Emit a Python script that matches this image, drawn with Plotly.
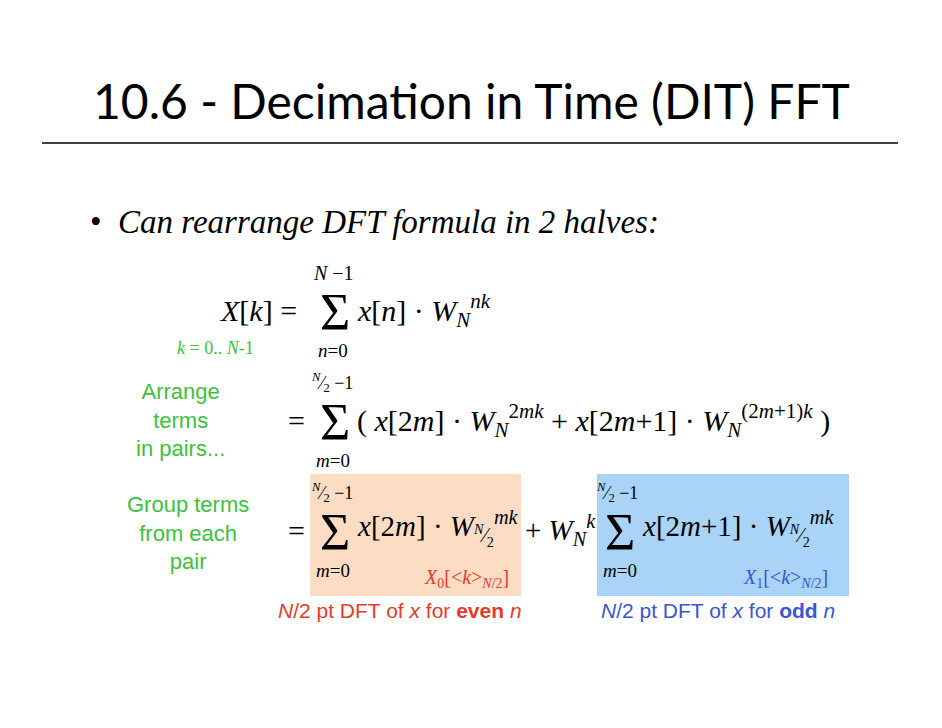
import plotly.graph_objects as go

title = "10.6 - Decimation in Time (DIT) FFT"
bullet = "•  <i>Can rearrange DFT formula in 2 halves:</i>"
side_labels = ["Arrange<br>terms<br>in pairs...", "Group terms<br>from each<br>pair"]
bottom_labels = ["<i>N</i>/2 pt DFT of <i>x</i> for <b>even</b> <i>n</i>",
                 "<i>N</i>/2 pt DFT of <i>x</i> for <b>odd</b> <i>n</i>"]

SERIF = "Liberation Serif, Times New Roman, serif"
SANS = "Liberation Sans, Arial, sans-serif"
GREEN = "#3cc23c"
RED = "#e83a2a"
BLUE = "#3c55d0"

fig = go.Figure()
fig.add_trace(go.Scatter(x=[10, 940], y=[10, 720], mode="markers", marker=dict(opacity=0), hoverinfo="skip", showlegend=False))

def t(x, y, s, size=24, color="black", family=SERIF, anchor="center"):
    fig.add_annotation(x=x, y=y, text=s, showarrow=False, xanchor=anchor, yanchor="middle",
                       font=dict(size=size, color=color, family=family), align="center")

fig.add_shape(type="rect", x0=310, x1=521, y0=474, y1=596, fillcolor="#fddcc4", line_width=0, layer="below")
fig.add_shape(type="rect", x0=597, x1=849, y0=474, y1=596, fillcolor="#a9d3f7", line_width=0, layer="below")
fig.add_shape(type="line", x0=42, x1=898, y0=143, y1=143, line=dict(color="black", width=1.5))

t(471, 100, title, size=48, family="Lato")
t(88, 222, bullet, size=33, anchor="left")

# line 1
t(258, 310, "<i>X</i>[<i>k</i>] =", size=30)
t(333, 273, "<i>N</i> −1", size=20)
t(335, 312, "Σ", size=52)
t(333, 350, "<i>n</i>=0", size=19)
t(355, 310, "<i>x</i>[<i>n</i>] · <i>W</i><sub><i>N</i></sub><sup><i>nk</i></sup>", size=30, anchor="left")
t(215, 348, "<i>k</i> = 0.. <i>N</i>-1", size=18, color=GREEN)

# line 2
t(180, 420, side_labels[0], size=22, color=GREEN, family=SANS)
t(296, 420, "=", size=30)
t(332, 382, "<sup><i>N</i></sup>⁄<sub>2</sub> −1", size=18)
t(335, 422, "Σ", size=52)
t(333, 460, "<i>m</i>=0", size=19)
t(355, 420, "( <i>x</i>[2<i>m</i>] · <i>W</i><sub><i>N</i></sub><sup>2<i>mk</i></sup> + <i>x</i>[2<i>m</i>+1] · <i>W</i><sub><i>N</i></sub><sup>(2<i>m</i>+1)<i>k</i></sup> )", size=30, anchor="left")

# line 3
t(188, 533, side_labels[1], size=22, color=GREEN, family=SANS)
t(296, 530, "=", size=30)
t(332, 492, "<sup><i>N</i></sup>⁄<sub>2</sub> −1", size=18)
t(335, 532, "Σ", size=52)
t(333, 570, "<i>m</i>=0", size=19)
t(355, 528, "<i>x</i>[2<i>m</i>] · <i>W</i><sub><sup><i>N</i></sup>⁄<sub>2</sub></sub><sup><i>mk</i></sup>", size=29, anchor="left")
t(523, 530, "+ <i>W</i><sub><i>N</i></sub><sup><i>k</i></sup>", size=29, anchor="left")
t(617, 492, "<sup><i>N</i></sup>⁄<sub>2</sub> −1", size=18)
t(620, 532, "Σ", size=52)
t(620, 570, "<i>m</i>=0", size=19)
t(640, 528, "<i>x</i>[2<i>m</i>+1] · <i>W</i><sub><sup><i>N</i></sup>⁄<sub>2</sub></sub><sup><i>mk</i></sup>", size=29, anchor="left")
t(466, 578, "<i>X</i><sub>0</sub>[&lt;<i>k</i>&gt;<sub><i>N</i>/2</sub>]", size=20, color=RED)
t(785, 578, "<i>X</i><sub>1</sub>[&lt;<i>k</i>&gt;<sub><i>N</i>/2</sub>]", size=20, color=BLUE)

t(400, 610, bottom_labels[0], size=21, color=RED, family=SANS)
t(718, 610, bottom_labels[1], size=21, color=BLUE, family=SANS)

# compensate for the 8px page body margin
fig.update_layout(width=942, height=728, margin=dict(l=0, r=0, t=0, b=0),
                  plot_bgcolor="white", paper_bgcolor="white",
                  xaxis=dict(range=[8, 950], visible=False, fixedrange=True),
                  yaxis=dict(range=[736, 8], visible=False, fixedrange=True))
fig.write_html("out.html")
